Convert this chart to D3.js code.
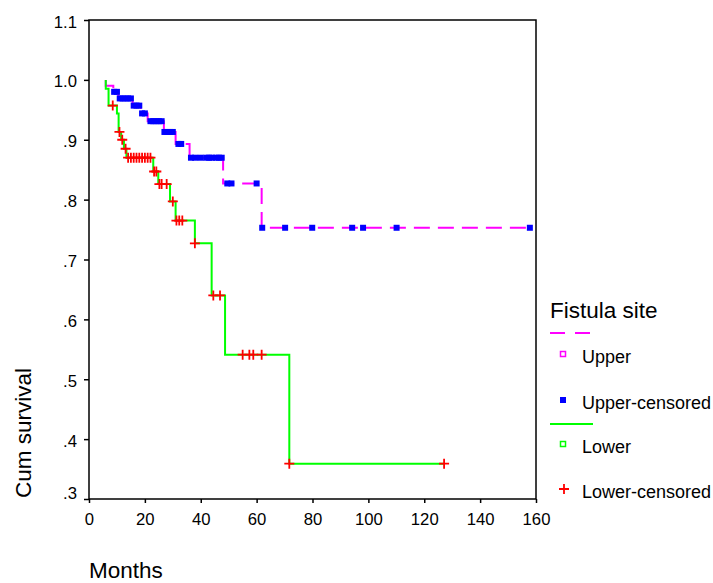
<!DOCTYPE html>
<html>
<head>
<meta charset="utf-8">
<script src="https://cdn.jsdelivr.net/npm/d3@7"></script>
<style>
	body { margin: 0; background: #fff; }
	svg { font-family: "Liberation Sans", Arial, sans-serif; }
</style>
</head>
<body>
<div id="chart"></div>
<script>
// Kaplan-Meier steps: time (months) and survival after the step
const upperTimes = [6, 8.7, 10.5, 15.6, 18.5, 21, 26.8, 31, 36, 48, 61.8];
const upperSurv = [0.990, 0.980, 0.969, 0.957, 0.944, 0.931, 0.913, 0.893, 0.870, 0.827, 0.753];
const upperCensored = [9, 10, 11, 12, 13, 14, 15, 16, 17, 18, 19, 20, 22, 23, 24, 25, 26, 27, 28, 29, 30,
	32, 33, 36.5, 38, 40, 42, 43, 44, 45.5, 46.5, 47.5, 49.5, 51, 60, 62, 70.2, 79.9, 94.2, 98.1, 110.1, 157.8];

const lowerTimes = [6, 7, 10, 10.6, 11.5, 12.5, 13.4, 23, 24.8, 29, 31, 37.9, 43.9, 48.7, 71.7];
const lowerSurv = [0.985, 0.957, 0.944, 0.913, 0.900, 0.885, 0.870, 0.847, 0.826, 0.797, 0.765, 0.727, 0.640, 0.541, 0.359];
const lowerCensored = [8.5, 10.9, 11.9, 13.1, 14, 15, 16, 17, 18, 19, 20, 21, 22, 23.3, 24.1, 25.2, 26, 27.8,
	30, 31.3, 32.3, 33.4, 37.9, 44.5, 46.9, 55, 57.4, 58.8, 61.8, 71.7, 127.1];

const startTime = 6;
const xTicks = [0, 20, 40, 60, 80, 100, 120, 140, 160];
const yTicks = [1.1, 1.0, 0.9, 0.8, 0.7, 0.6, 0.5, 0.4, 0.3];
const legendLabels = ["Upper", "Upper-censored", "Lower", "Lower-censored"];

const width = 713, height = 583;
const box = { left: 89, top: 20, right: 536, bottom: 499 };

const svg = d3.select('#chart').append('svg')
	.attr('width', width)
	.attr('height', height);

const x = d3.scaleLinear().domain([0, 160]).range([box.left, box.right]);
const y = d3.scaleLinear().domain([0.3, 1.1]).range([box.bottom, box.top]);

function fmt(d) {
	const s = d.toFixed(1);
	return d < 1 ? s.replace(/^0/, "") : s;
};

// survival at time t: value after the last step at or before t
function survAt(times, surv, t) {
	const i = d3.bisectRight(times, t + 1e-9);
	return i === 0 ? 1 : surv[i - 1];
};

function curve(times, surv, end) {
	const pts = [[startTime, 1]];
	times.forEach((t, i) => pts.push([t, surv[i]]));
	pts.push([end, surv[surv.length - 1]]);
	return pts;
};

const line = d3.line()
	.x(d => x(d[0]))
	.y(d => y(d[1]))
	.curve(d3.curveStepAfter);

// axes
const yAxis = svg.append('g')
	.attr('transform', `translate(${box.left},0)`)
	.call(d3.axisLeft(y).tickValues(yTicks).tickFormat(fmt).tickSize(5).tickPadding(7));

// labels sit on their ticks, except the lowest which is lifted off the x axis
yAxis.selectAll('text')
	.attr('dy', d => d === 0.3 ? '-0.06em' : '0.42em');

const xAxis = svg.append('g')
	.attr('transform', `translate(0,${box.bottom})`)
	.call(d3.axisBottom(x).tickValues(xTicks).tickSize(4).tickPadding(10));

svg.selectAll('.tick text')
	.attr('font-size', 16.7)
	.attr('font-family', '"Liberation Sans", Arial, sans-serif')
	.attr('fill', '#000');

svg.selectAll('.domain').remove();
svg.selectAll('.tick line').attr('stroke', '#000').attr('stroke-width', 1.5);

svg.append('rect')
	.attr('x', box.left)
	.attr('y', box.top)
	.attr('width', box.right - box.left)
	.attr('height', box.bottom - box.top)
	.attr('fill', 'none')
	.attr('stroke', '#000')
	.attr('stroke-width', 1.5);

svg.append('text')
	.attr('x', box.left)
	.attr('y', 578)
	.attr('font-size', 22.5)
	.text("Months");

svg.append('text')
	.attr('transform', `translate(31,498)rotate(-90)`)
	.attr('font-size', 22.5)
	.text("Cum survival");

// upper
svg.append('path')
	.attr('d', line(curve(upperTimes, upperSurv, 157.8)))
	.attr('fill', 'none')
	.attr('stroke', '#ff00ff')
	.attr('stroke-width', 2)
	.attr('stroke-dasharray', '16,8');

svg.append('g').selectAll('rect')
	.data(upperCensored)
	.enter().append('rect')
	.attr('x', d => x(d) - 3)
	.attr('y', d => y(survAt(upperTimes, upperSurv, d)) - 3)
	.attr('width', 6)
	.attr('height', 6)
	.attr('fill', '#0000ff');

// lower
svg.append('path')
	.attr('d', line(curve(lowerTimes, lowerSurv, 127.1)))
	.attr('fill', 'none')
	.attr('stroke', '#00ff00')
	.attr('stroke-width', 2);

svg.append('g').selectAll('path')
	.data(lowerCensored)
	.enter().append('path')
	.attr('transform', d => `translate(${x(d)},${y(survAt(lowerTimes, lowerSurv, d))})`)
	.attr('d', 'M-5,0H5M0,-5V5')
	.attr('stroke', '#ff0000')
	.attr('stroke-width', 1.8);

// legend
const lg = svg.append('g').attr('transform', 'translate(550,0)');

lg.append('text')
	.attr('x', 0)
	.attr('y', 318)
	.attr('font-size', 22.5)
	.text("Fistula site");

lg.append('line')
	.attr('x1', 0).attr('x2', 41)
	.attr('y1', 333).attr('y2', 333)
	.attr('stroke', '#ff00ff')
	.attr('stroke-width', 2)
	.attr('stroke-dasharray', '15,10');

lg.append('line')
	.attr('x1', 0).attr('x2', 43)
	.attr('y1', 424).attr('y2', 424)
	.attr('stroke', '#00ff00')
	.attr('stroke-width', 2);

const items = [
	{ y: 363, sym: 'open', color: '#ff00ff' },
	{ y: 409, sym: 'filled', color: '#0000ff' },
	{ y: 453, sym: 'open', color: '#00ff00' },
	{ y: 498, sym: 'plus', color: '#ff0000' }
];

items.forEach((it, i) => {
	const cy = it.y - 9;
	if (it.sym === 'open')
		lg.append('rect')
			.attr('x', 10.5).attr('y', cy - 2.5)
			.attr('width', 5).attr('height', 5)
			.attr('fill', 'none')
			.attr('stroke', it.color)
			.attr('stroke-width', 1.5);
	else if (it.sym === 'filled')
		lg.append('rect')
			.attr('x', 10).attr('y', cy - 3)
			.attr('width', 6).attr('height', 6)
			.attr('fill', it.color);
	else
		lg.append('path')
			.attr('transform', `translate(14,${cy})`)
			.attr('d', 'M-5,0H5M0,-5V5')
			.attr('stroke', it.color)
			.attr('stroke-width', 1.8);

	lg.append('text')
		.attr('x', 32)
		.attr('y', it.y)
		.attr('font-size', 18)
		.text(legendLabels[i]);
});
</script>
</body>
</html>
